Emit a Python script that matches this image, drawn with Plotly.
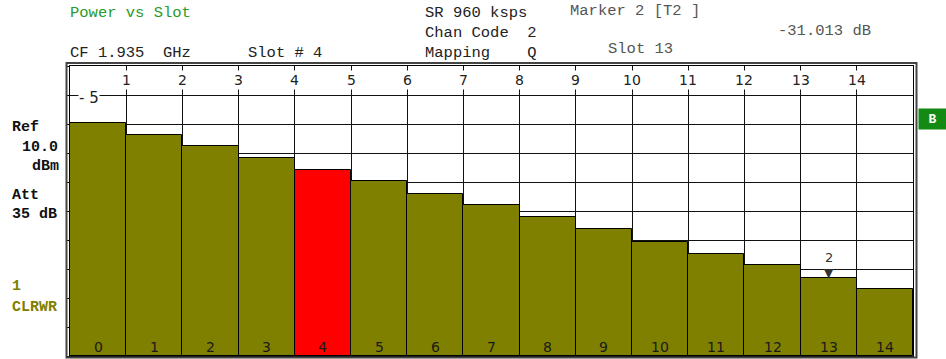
import plotly.graph_objects as go

# ---- data -------------------------------------------------------------
slots = list(range(15))
slot_power_db = [-8.93, -10.63, -12.28, -13.90, -15.69, -17.25, -19.09, -20.65,
                 -22.35, -24.06, -25.90, -27.57, -29.17, -31.013, -32.53]
selected_slot = 4
marker_slot = 13
marker_value = -31.013
top_tick_labels = [str(i) for i in range(1, 15)]
bottom_tick_labels = [str(i) for i in slots]

# vertical scale: 10 divisions
Y_TOP = -0.88
Y_DIV = 4.116
Y_BOTTOM = Y_TOP - 10 * Y_DIV

# ---- page geometry ----------------------------------------------------
W, H = 946, 359
L, R, T, B = 70, 33, 66, 3
PW, PH = W - L - R, H - T - B

def px(x):
    return (x - L) / PW

def py(y):
    return (H - B - y) / PH

MONO = "Liberation Mono"
SANS = "DejaVu Sans"
OLIVE = "#808000"

colors = ["#ff0000" if s == selected_slot else OLIVE for s in slots]

fig = go.Figure()
fig.add_trace(go.Bar(
    x=[s + 0.5 for s in slots],
    y=[v - Y_BOTTOM for v in slot_power_db],
    base=[Y_BOTTOM] * len(slots),
    width=1.0,
    marker=dict(color=colors, line=dict(color="#000000", width=1)),
    customdata=slot_power_db,
    hovertemplate="Slot %{x}<br>%{customdata:.3f} dB<extra></extra>",
))

annotations = []

# slot boundary numbers along the top
for i, lab in enumerate(top_tick_labels, start=1):
    annotations.append(dict(
        x=i, xref="x", y=py(80), yref="paper", text=lab, showarrow=False,
        xanchor="center", yanchor="middle", bgcolor="white", borderpad=1,
        font=dict(family=SANS, size=14, color="#222222")))

# slot numbers inside the bars
for s, lab in zip(slots, bottom_tick_labels):
    annotations.append(dict(
        x=s + 0.5, xref="x", y=py(347), yref="paper", text=lab, showarrow=False,
        xanchor="center", yanchor="middle",
        font=dict(family=SANS, size=14, color="#1a1a1a")))

# first grid level label
annotations.append(dict(
    x=px(89), xref="paper", y=py(98), yref="paper", text="- 5", showarrow=False,
    xanchor="center", yanchor="middle", bgcolor="white", borderpad=0,
    font=dict(family=SANS, size=15, color="#222222")))

# marker 2 on slot 13
annotations.append(dict(
    x=marker_slot + 0.5, xref="x", y=marker_value, yref="y", text="▼",
    showarrow=False, xanchor="center", yanchor="bottom", yshift=-4,
    font=dict(family=SANS, size=12, color="#333333")))
annotations.append(dict(
    x=marker_slot + 0.5, xref="x", y=marker_value, yref="y", text="2",
    showarrow=False, xanchor="center", yanchor="middle", yshift=21,
    font=dict(family=SANS, size=13, color="#333333")))

# header texts
header = [
    ("Power vs Slot", 70, 13, "#2a9a2a"),
    ("CF 1.935\u00a0\u00a0GHz", 70, 53, "#222222"),
    ("Slot # 4", 248, 53, "#222222"),
    ("SR 960 ksps", 425, 13, "#222222"),
    ("Chan Code\u00a0\u00a02", 425, 33, "#222222"),
    ("Mapping\u00a0\u00a0\u00a0\u00a0Q", 425, 53, "#222222"),
    ("Marker 2 [T2 ]", 570, 11, "#555555"),
    ("-31.013 dB", 778, 31, "#555555"),
    ("Slot 13", 608, 49, "#555555"),
]
for text, x0, y0, col in header:
    annotations.append(dict(
        x=px(x0 - 2), xref="paper", y=py(y0), yref="paper", text=text,
        showarrow=False, xanchor="left", yanchor="middle",
        font=dict(family=MONO, size=15.5, color=col)))

# side labels
side = [
    ("<b>Ref</b>", 12, 127, "#111111"),
    ("<b>10.0</b>", 22, 147, "#111111"),
    ("<b>dBm</b>", 32, 166, "#111111"),
    ("<b>Att</b>", 12, 195, "#111111"),
    ("<b>35 dB</b>", 12, 214, "#111111"),
    ("<b>1</b>", 12, 286, OLIVE),
    ("<b>CLRWR</b>", 12, 307, OLIVE),
]
for text, x0, y0, col in side:
    annotations.append(dict(
        x=px(x0 - 2), xref="paper", y=py(y0), yref="paper", text=text,
        showarrow=False, xanchor="left", yanchor="middle",
        font=dict(family=MONO, size=15, color=col)))

# "B" badge on the right
annotations.append(dict(
    x=px(932.5), xref="paper", y=py(119), yref="paper", text="<b>B</b>",
    showarrow=False, xanchor="center", yanchor="middle",
    bgcolor="#138a13", width=27, height=20, borderpad=0,
    font=dict(family=MONO, size=13, color="white")))

shapes = [
    dict(type="rect", xref="paper", yref="paper",
         x0=px(66.5), x1=px(916.5), y0=py(357.5), y1=py(63),
         line=dict(color="#444444", width=2), layer="above"),
]

fig.update_layout(
    width=W, height=H,
    margin=dict(l=L, r=R, t=T, b=B),
    paper_bgcolor="white", plot_bgcolor="white",
    showlegend=False,
    bargap=0,
    annotations=annotations,
    shapes=shapes,
    xaxis=dict(range=[0, 15], tickvals=list(range(16)), showticklabels=False,
               ticks="", showgrid=True, gridcolor="#111111", gridwidth=1,
               zeroline=False, showline=True, linecolor="#000000",
               linewidth=1, mirror=True, fixedrange=True),
    yaxis=dict(range=[Y_BOTTOM, Y_TOP],
               tickvals=[Y_TOP - k * Y_DIV for k in range(11)],
               showticklabels=False, ticks="outside", ticklen=3,
               tickcolor="#000000", showgrid=True, gridcolor="#111111",
               gridwidth=1, zeroline=False, showline=True,
               linecolor="#000000", linewidth=1, mirror=True,
               fixedrange=True),
)

fig.write_html("out.html")
